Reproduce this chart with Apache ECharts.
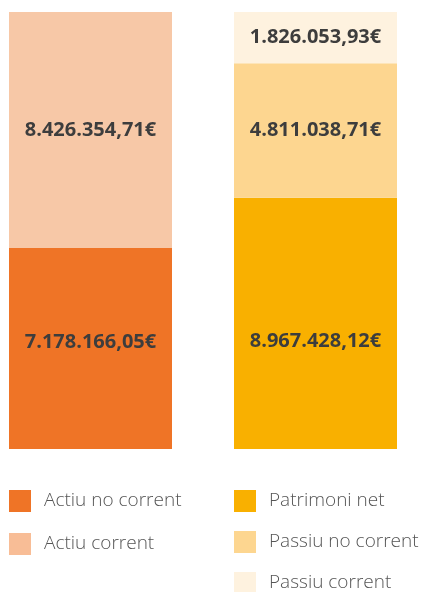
<!DOCTYPE html>
<html>
<head>
<meta charset="utf-8">
<script src="https://cdn.jsdelivr.net/npm/echarts@6/dist/echarts.min.js"></script>
<style>
html, body { margin: 0; padding: 0; background: #fff; }
#chart { width: 421px; height: 592px; }
</style>
</head>
<body>
<div id="chart"></div>
<script>
var categories = ['Actiu', 'Passiu'];
var seriesNames = ['Actiu no corrent', 'Actiu corrent', 'Patrimoni net', 'Passiu no corrent', 'Passiu corrent'];
var actiuNoCorrent = [7178166.05, '-'];
var actiuCorrent = [8426354.71, '-'];
var patrimoniNet = ['-', 8967428.12];
var passiuNoCorrent = ['-', 4811038.71];
var passiuCorrent = ['-', 1826053.93];
var colors = ['#EF7426', '#F7C8A7', '#F9B000', '#FDD690', '#FEF2DF'];
var legendColors = ['#EF7426', '#F8BD96', '#F9B000', '#FDD690', '#FEF2DF'];
// vertical nudges of the value labels (px)
var labelShift = [-6, 0, 18, 0, 0];

var total = actiuNoCorrent[0] + actiuCorrent[0];

function euro(v) {
    var parts = v.toFixed(2).split('.');
    var intPart = parts[0].replace(/\B(?=(\d{3})+(?!\d))/g, '.');
    return intPart + ',' + parts[1] + '€';
}

var allData = [actiuNoCorrent, actiuCorrent, patrimoniNet, passiuNoCorrent, passiuCorrent];
var series = allData.map(function (d, i) {
    return {
        name: seriesNames[i],
        type: 'bar',
        stack: 'total',
        barWidth: 163,
        data: d,
        itemStyle: { color: colors[i] },
        label: {
            show: true,
            position: 'inside',
            offset: [0, labelShift[i]],
            color: '#3d3d3d',
            fontFamily: 'Open Sans',
            fontWeight: 'bold',
            fontSize: 20,
            formatter: function (p) { return euro(p.value); }
        }
    };
});

var legendText = {
    color: '#555',
    fontFamily: 'Open Sans',
    fontWeight: 300,
    fontSize: 19,
    padding: [0, 0, 0, 8]
};

function legendItems(from, to) {
    var out = [];
    for (var i = from; i < to; i++) {
        out.push({ name: seriesNames[i], itemStyle: { color: legendColors[i] } });
    }
    return out;
}

var myChart = echarts.init(document.getElementById('chart'));
myChart.setOption({
    animation: false,
    grid: { left: -22, width: 450, top: 12, bottom: 143, containLabel: false, outerBoundsMode: 'none' },
    xAxis: {
        type: 'category',
        data: categories,
        show: false
    },
    yAxis: {
        type: 'value',
        min: 0,
        max: total,
        show: false
    },
    legend: [{
        data: legendItems(0, 2),
        orient: 'vertical',
        left: 9,
        top: 490,
        height: 120,
        padding: 0,
        itemWidth: 22,
        itemHeight: 22,
        itemGap: 21,
        icon: 'rect',
        textStyle: legendText,
        selectedMode: false
    }, {
        data: legendItems(2, 5),
        orient: 'vertical',
        left: 234,
        top: 490,
        height: 120,
        padding: 0,
        itemWidth: 22,
        itemHeight: 22,
        itemGap: 19,
        icon: 'rect',
        textStyle: legendText,
        selectedMode: false
    }],
    series: series
});
</script>
</body>
</html>
